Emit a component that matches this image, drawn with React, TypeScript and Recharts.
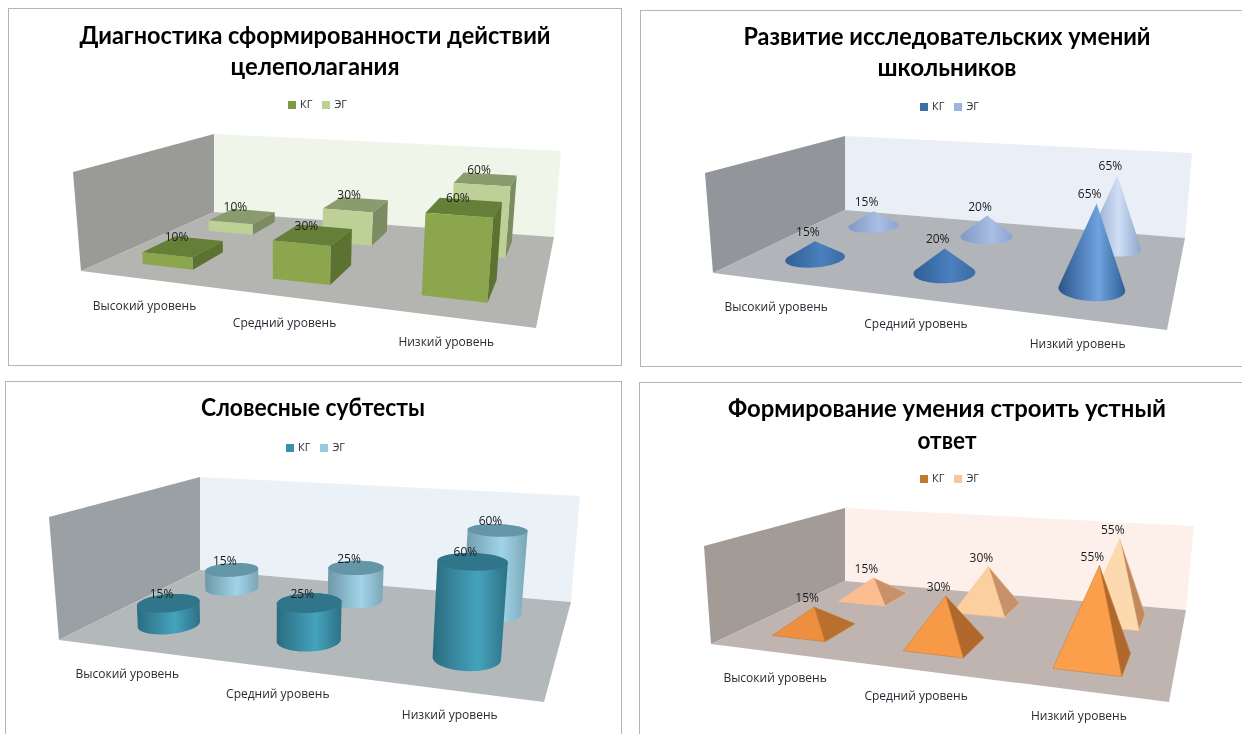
import React from 'react';
import { BarChart, Bar, XAxis, YAxis, Legend, LabelList } from 'recharts';

const CATEGORIES = ['Высокий уровень', 'Средний уровень', 'Низкий уровень'];
const KG_NAME = 'КГ';
const EG_NAME = 'ЭГ';

const GOAL_TITLE = ['Диагностика сформированности действий', 'целеполагания'];
const GOAL_KG = [10, 30, 60];
const GOAL_EG = [10, 30, 60];

const RESEARCH_TITLE = ['Развитие исследовательских умений', 'школьников'];
const RESEARCH_KG = [15, 20, 65];
const RESEARCH_EG = [15, 20, 65];

const VERBAL_TITLE = ['Словесные субтесты'];
const VERBAL_KG = [15, 25, 60];
const VERBAL_EG = [15, 25, 60];

const ORAL_TITLE = ['Формирование умения строить устный', 'ответ'];
const ORAL_KG = [15, 30, 55];
const ORAL_EG = [15, 30, 55];

const TEXT_FONT = '"Open Sans", "Noto Sans", sans-serif';
const TITLE_FONT = 'Lato, "Noto Sans", sans-serif';
const AXIS_HEIGHT = 20;
const BORDER = 1.5;

type Pt = [number, number];

// corners are in page pixels: floor front/back, left/right, and wall tops
const PANELS: any[] = [
  {
    kind: 'box', box: [8, 8, 614, 358], title: GOAL_TITLE, kg: GOAL_KG, eg: GOAL_EG, max: 80, barShare: 0.4,
    titleX: 315, titleY: [44, 75], titleW: [471, 169], legend: [323, 96],
    fl: [81, 271], fr: [536, 328], bl: [214, 212], br: [554, 237],
    flTop: [73, 172], blTop: [214, 134], brTop: [561, 151],
    leftWall: '#9a9b97', backWall: '#f0f5ea', floor: '#b4b5b1',
    kgStyle: { fill: '#7f9a45', front: ['#8ba64c'], side: ['#5c7231'], top: '#667f38' },
    egStyle: { fill: '#bcd095', front: ['#bdd197'], side: ['#7b8c62'], top: '#8a9c6e' },
  },
  {
    kind: 'cone', box: [640, 10, 610, 357], title: RESEARCH_TITLE, kg: RESEARCH_KG, eg: RESEARCH_EG, max: 80, barShare: 0.42,
    titleX: 947, titleY: [45, 76], titleW: [407, 139], legend: [955, 98],
    fl: [713, 273], fr: [1167, 330], bl: [845, 210], br: [1185, 238],
    flTop: [705, 173], blTop: [845, 136], brTop: [1192, 153],
    leftWall: '#929599', backWall: '#e9eef7', floor: '#b1b4b8',
    kgStyle: {
      fill: '#3f6fa8', stops: ['#2a558a', '#6fa3de', '#2f5f98'], lowStops: ['#2f5f97', '#4a80bd', '#3a6ca6'],
    },
    egStyle: {
      fill: '#9db3d9', stops: ['#7f95b8', '#cfdff5', '#8ea6cc'], lowStops: ['#7f98c4', '#a9bfe4', '#8ba4cf'],
    },
  },
  {
    kind: 'cylinder', box: [5, 381, 617, 360], title: VERBAL_TITLE, kg: VERBAL_KG, eg: VERBAL_EG, max: 80, barShare: 0.4,
    titleX: 313, titleY: [416], titleW: [224], legend: [321, 439],
    fl: [59, 640], fr: [544, 702], bl: [200, 570], br: [571, 602],
    flTop: [49, 517], blTop: [200, 477], brTop: [580, 496],
    leftWall: '#9aa0a3', backWall: '#eaf2f8', floor: '#b3b8bb',
    kgStyle: { fill: '#3b8fa8', stops: ['#2b6c80', '#45a3bd', '#2d7186'], top: '#30758a' },
    egStyle: { fill: '#97c9dc', stops: ['#6f98a8', '#a0d4e8', '#7ba6b6'], top: '#6496a8' },
  },
  {
    kind: 'pyramid', box: [639, 382, 610, 360], title: ORAL_TITLE, kg: ORAL_KG, eg: ORAL_EG, max: 60, barShare: 0.42,
    titleX: 947, titleY: [417, 449], titleW: [438, 59], legend: [955, 470],
    fl: [711, 644], fr: [1169, 702], bl: [845, 581], br: [1186, 610],
    flTop: [704, 546], blTop: [845, 508], brTop: [1194, 526],
    leftWall: '#a39b96', backWall: '#fdf0ea', floor: '#bfb4b0',
    kgStyle: {
      fill: '#c2782f', front: ['#ec8f3e', '#f79a48', '#fb9f4c'], side: ['#b96f2e', '#b1682c', '#b1682c'],
    },
    egStyle: {
      fill: '#fbc59a', front: ['#fbbd8f', '#fbcf9e', '#fdd9b0'], side: ['#c99169', '#c99169', '#c08a5e'],
    },
  },
];

// least squares camera through the wall corners, so marks follow the same perspective
function solveCamera(panel: any) {
  const ox = panel.box[0];
  const oy = panel.box[1];
  const pairs: [number, number, number, Pt][] = [
    [0, 0, 0, panel.fl], [1, 0, 0, panel.fr], [0, 1, 0, panel.bl], [1, 1, 0, panel.br],
    [0, 0, 1, panel.flTop], [0, 1, 1, panel.blTop], [1, 1, 1, panel.brTop],
  ];
  const rows: number[][] = [];
  const rhs: number[] = [];
  pairs.forEach(([u, v, z, p]) => {
    const x = (p[0] - ox) / 1000;
    const y = (p[1] - oy) / 1000;
    rows.push([u, v, z, 1, 0, 0, 0, 0, -x * u, -x * v, -x * z]);
    rhs.push(x);
    rows.push([0, 0, 0, 0, u, v, z, 1, -y * u, -y * v, -y * z]);
    rhs.push(y);
  });
  const n = 11;
  const m: number[][] = [];
  for (let i = 0; i < n; i++) {
    const line = new Array(n + 1).fill(0);
    rows.forEach((r, k) => {
      for (let j = 0; j < n; j++) line[j] += r[i] * r[j];
      line[n] += r[i] * rhs[k];
    });
    m.push(line);
  }
  for (let i = 0; i < n; i++) {
    let best = i;
    for (let k = i + 1; k < n; k++) if (Math.abs(m[k][i]) > Math.abs(m[best][i])) best = k;
    [m[i], m[best]] = [m[best], m[i]];
    for (let k = 0; k < n; k++) {
      if (k === i) continue;
      const f = m[k][i] / m[i][i];
      for (let j = i; j <= n; j++) m[k][j] -= f * m[i][j];
    }
  }
  const p = m.map((line, i) => line[n] / line[i]);
  return (u: number, v: number, z: number): Pt => {
    const w = p[8] * u + p[9] * v + p[10] * z + 1;
    return [
      (1000 * (p[0] * u + p[1] * v + p[2] * z + p[3])) / w,
      (1000 * (p[4] * u + p[5] * v + p[6] * z + p[7])) / w,
    ];
  };
}

const toPoints = (pts: Pt[]) => pts.map((p) => `${p[0].toFixed(1)},${p[1].toFixed(1)}`).join(' ');

function hull(points: Pt[]): Pt[] {
  const pts = [...points].sort((a, b) => a[0] - b[0] || a[1] - b[1]);
  const cross = (o: Pt, a: Pt, b: Pt) => (a[0] - o[0]) * (b[1] - o[1]) - (a[1] - o[1]) * (b[0] - o[0]);
  const half = (list: Pt[]) => {
    const out: Pt[] = [];
    list.forEach((p) => {
      while (out.length > 1 && cross(out[out.length - 2], out[out.length - 1], p) <= 0) out.pop();
      out.push(p);
    });
    out.pop();
    return out;
  };
  return [...half(pts), ...half([...pts].reverse())];
}

const ROW_CENTER = [0.27, 0.77];
const ROW_HALF = 0.115;
const pick = (list: string[], i: number) => list[Math.min(i, list.length - 1)];

function Mark({ rect, panel, cam, row, style, plotW, plotH, id }: any) {
  const uc = (rect.x + rect.width / 2) / plotW;
  const ru = rect.width / plotW / 2;
  const vc = ROW_CENTER[row];
  const rv = ROW_HALF;
  const z = rect.height / plotH;
  const i = rect.index ?? 0;
  const ring = (h: number) => {
    const out: Pt[] = [];
    for (let k = 0; k < 48; k++) {
      const t = (k / 48) * Math.PI * 2;
      out.push(cam(uc + ru * Math.cos(t), vc + rv * Math.sin(t), h));
    }
    return out;
  };
  const stops = style.lowStops && z < 0.4 ? style.lowStops : style.stops;
  const gradient = stops ? (
    <defs>
      <linearGradient id={id} x1="0" y1="0" x2="1" y2="0">
        <stop offset="0%" stopColor={stops[0]} />
        <stop offset="60%" stopColor={stops[1]} />
        <stop offset="100%" stopColor={stops[2]} />
      </linearGradient>
    </defs>
  ) : null;

  if (panel.kind === 'box') {
    const a = (u: number, v: number, h: number) => cam(uc + u * ru, vc + v * rv, h);
    return (
      <g>
        <polygon points={toPoints([a(-1, 1, z), a(1, 1, z), a(1, -1, z), a(-1, -1, z)])} fill={style.top} />
        <polygon points={toPoints([a(1, -1, 0), a(1, 1, 0), a(1, 1, z), a(1, -1, z)])} fill={pick(style.side, i)} />
        <polygon points={toPoints([a(-1, -1, 0), a(1, -1, 0), a(1, -1, z), a(-1, -1, z)])} fill={pick(style.front, i)} />
      </g>
    );
  }
  if (panel.kind === 'pyramid') {
    const a = (u: number, v: number) => cam(uc + u * ru, vc + v * rv, 0);
    const apex = cam(uc, vc, z);
    return (
      <g stroke={style.fill} strokeWidth={0.5}>
        <polygon points={toPoints([a(1, -1), a(1, 1), apex])} fill={pick(style.side, i)} />
        <polygon points={toPoints([a(-1, -1), a(1, -1), apex])} fill={pick(style.front, i)} />
      </g>
    );
  }
  if (panel.kind === 'cone') {
    return (
      <g>
        {gradient}
        <polygon points={toPoints(hull([...ring(0), cam(uc, vc, z)]))} fill={`url(#${id})`} />
      </g>
    );
  }
  return (
    <g>
      {gradient}
      <polygon points={toPoints(hull([...ring(0), ...ring(z)]))} fill={`url(#${id})`} />
      <polygon points={toPoints(ring(z))} fill={style.top} />
    </g>
  );
}

function PercentLabel({ props, cam, row, plotW, plotH }: any) {
  const b = props.viewBox ?? props;
  const p = cam((b.x + b.width / 2) / plotW, ROW_CENTER[row], b.height / plotH);
  return (
    <text x={p[0] - 7} y={p[1] - 5} textAnchor="middle" fontFamily={TEXT_FONT} fontSize={12} fill="#1a1a1a">
      {`${props.value}%`}
    </text>
  );
}

function Panel({ panel, index }: any) {
  const [left, top, width, height] = panel.box;
  const plotW = width;
  const plotH = height - AXIS_HEIGHT;
  const cam = solveCamera(panel);
  const data = CATEGORIES.map((category, i) => ({ category, kg: panel.kg[i], eg: panel.eg[i] }));
  const barSize = Math.round((plotW / 3) * panel.barShare);
  const local = (p: Pt) => [p[0] - left, p[1] - top] as Pt;
  const fl = local(panel.fl);
  const fr = local(panel.fr);
  const bl = local(panel.bl);
  const br = local(panel.br);
  const flTop = local(panel.flTop);
  const blTop = local(panel.blTop);
  const brTop = local(panel.brTop);

  const shapeFor = (row: number, style: any, name: string) => (rect: any) => (
    <Mark
      rect={rect}
      panel={panel}
      cam={cam}
      row={row}
      style={style}
      plotW={plotW}
      plotH={plotH}
      id={`m${index}-${name}-${rect.index}`}
    />
  );
  const labelFor = (row: number) => (props: any) => (
    <PercentLabel props={props} cam={cam} row={row} plotW={plotW} plotH={plotH} />
  );
  const tick = (props: any) => {
    const p = cam(props.x / plotW, 0, 0);
    return (
      <text x={p[0] + 1} y={p[1] + 30} textAnchor="middle" fontFamily={TEXT_FONT} fontSize={12} fill="#2a2a35">
        {props.payload.value}
      </text>
    );
  };

  return (
    <div
      style={{
        position: 'absolute', left, top, width, height, boxSizing: 'border-box',
        border: `${BORDER}px solid #b4b4b4`, background: '#fff',
      }}
    >
      <div style={{ position: 'absolute', left: -BORDER, top: -BORDER }}>
        <BarChart
          width={width}
          height={height}
          data={data}
          margin={{ top: 0, right: 0, bottom: 0, left: 0 }}
          barSize={barSize}
          barGap={-barSize}
        >
          {panel.title.map((line: string, i: number) => (
            <text
              key={line}
              x={panel.titleX - left}
              y={panel.titleY[i] - top}
              textAnchor="middle"
              fontFamily={TITLE_FONT}
              fontWeight={700}
              fontSize={24}
              fill="#000"
              textLength={panel.titleW[i]}
              lengthAdjust="spacingAndGlyphs"
            >
              {line}
            </text>
          ))}
          <polygon points={toPoints([fl, flTop, blTop, bl])} fill={panel.leftWall} />
          <polygon points={toPoints([bl, blTop, brTop, br])} fill={panel.backWall} />
          <polygon points={toPoints([fl, fr, br, bl])} fill={panel.floor} />
          <XAxis
            dataKey="category"
            height={AXIS_HEIGHT}
            axisLine={false}
            tickLine={false}
            interval={0}
            tick={tick}
          />
          <YAxis hide domain={[0, panel.max]} />
          <Legend
            verticalAlign="middle"
            align="center"
            layout="horizontal"
            iconType="square"
            iconSize={8}
            wrapperStyle={{
              top: panel.legend[1] - top,
              left: panel.legend[0] - left - width / 2,
              fontFamily: TEXT_FONT,
              fontSize: 11,
            }}
            formatter={(value: string) => <span style={{ color: '#2a2a35' }}>{value}</span>}
          />
          <Bar
            dataKey="eg"
            name={EG_NAME}
            fill={panel.egStyle.fill}
            isAnimationActive={false}
            shape={shapeFor(1, panel.egStyle, 'eg')}
          >
            <LabelList dataKey="eg" content={labelFor(1)} />
          </Bar>
          <Bar
            dataKey="kg"
            name={KG_NAME}
            fill={panel.kgStyle.fill}
            isAnimationActive={false}
            shape={shapeFor(0, panel.kgStyle, 'kg')}
          >
            <LabelList dataKey="kg" content={labelFor(0)} />
          </Bar>
        </BarChart>
      </div>
    </div>
  );
}

export default function App() {
  return (
    <div
      style={{
        position: 'absolute', left: 0, top: 0, width: 1242, height: 734,
        overflow: 'hidden', background: '#fff', filter: 'blur(0.35px)',
      }}
    >
      {PANELS.map((panel, i) => (
        <Panel key={i} panel={panel} index={i} />
      ))}
    </div>
  );
}
